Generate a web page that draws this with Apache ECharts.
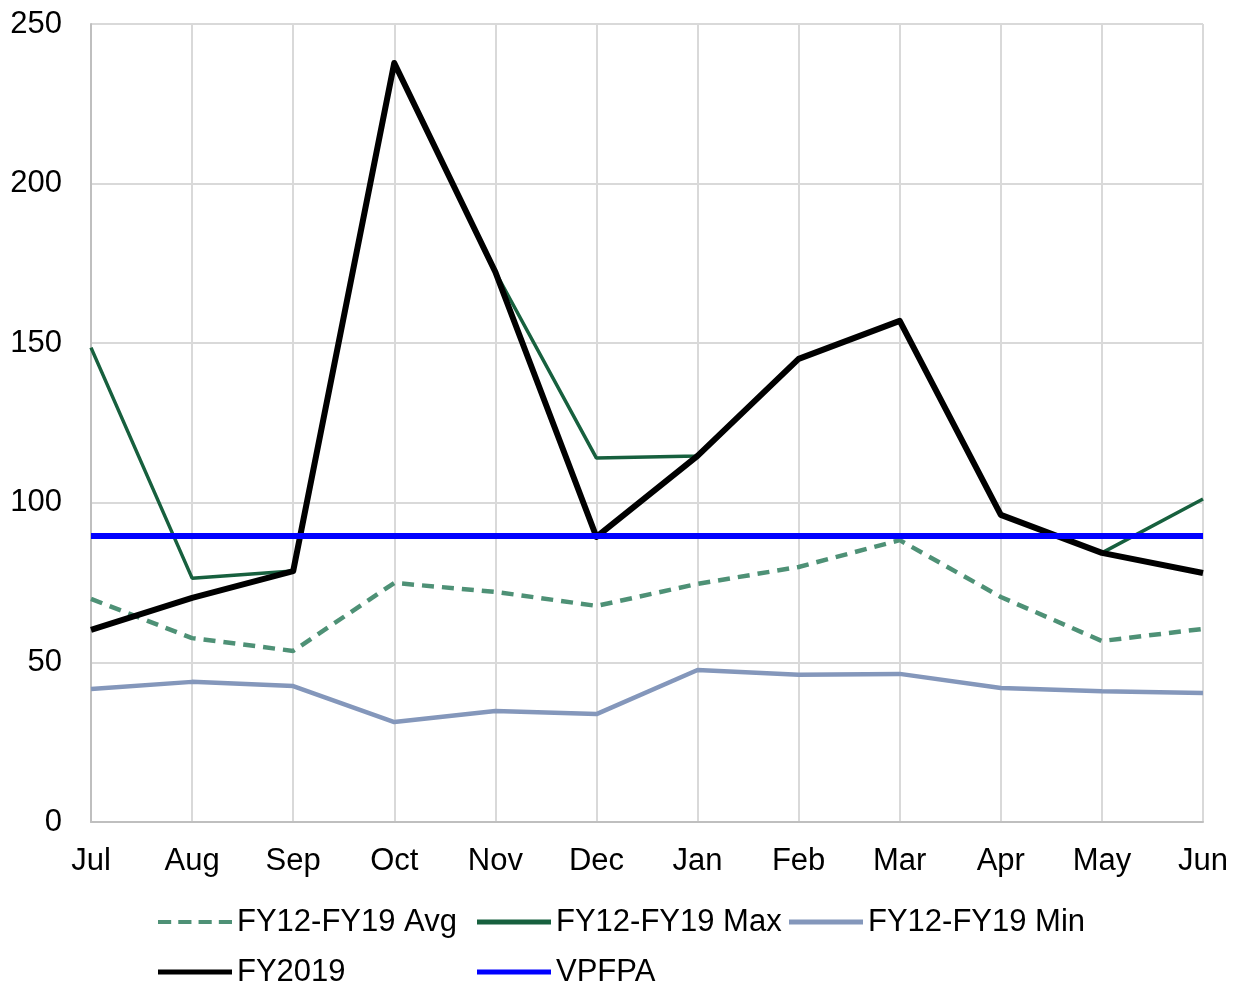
<!DOCTYPE html>
<html>
<head>
    <meta charset="UTF-8">
    <title>FY chart</title>
    <script src="https://cdn.jsdelivr.net/npm/echarts@6/dist/echarts.min.js"></script>
    <style>
        html, body { margin: 0; padding: 0; background: #fff; }
    </style>
</head>
<body>
<div id="main" style="width: 1233px;height:983px;"></div>
<script>
    var months = ['Jul', 'Aug', 'Sep', 'Oct', 'Nov', 'Dec', 'Jan', 'Feb', 'Mar', 'Apr', 'May', 'Jun'];
    var yTicks = [0, 50, 100, 150, 200, 250];

    var avgVals = [69.9, 57.6, 53.6, 74.9, 72.1, 67.7, 74.6, 79.9, 88.3, 70.5, 56.7, 60.5];
    var maxVals = [148.6, 76.4, 78.6, 237.8, 172.3, 114.0, 114.7, 145.1, 157.0, 96.2, 84.3, 101.2];
    var minVals = [41.7, 43.9, 42.6, 31.3, 34.8, 33.8, 47.6, 46.1, 46.4, 42.0, 41.0, 40.4];
    var fy2019 = [60.2, 70.2, 78.6, 237.8, 172.3, 89.3, 114.7, 145.1, 157.0, 96.2, 84.3, 78.0];
    var vpfpa = [89.6, 89.6, 89.6, 89.6, 89.6, 89.6, 89.6, 89.6, 89.6, 89.6, 89.6, 89.6];

    var font = 'Liberation Sans, Arial, sans-serif';
    var legendText = { color: '#000', fontSize: 31, fontFamily: font, lineHeight: 34 };

    // legend icons: plain bar for solid lines, four short bars for the dashed one
    var dashIcon = 'path://M0,0h13v4h-13zM20,0h13v4h-13zM40,0h13v4h-13zM60,0h13v4h-13z';

    function legendCol(left, items) {
        return {
            orient: 'vertical',
            left: left,
            top: 905,
            height: 110,
            itemWidth: 74,
            itemHeight: 5,
            itemGap: 16,
            padding: 0,
            textStyle: legendText,
            data: items
        };
    }

    var myChart = echarts.init(document.getElementById('main'));
    var option = {
        animation: false,
        backgroundColor: '#fff',
        grid: { left: 91, right: 30, top: 24, bottom: 161 },
        legend: [
            legendCol(158, [{ name: 'FY12-FY19 Avg', icon: dashIcon }, { name: 'FY2019', icon: 'rect' }]),
            legendCol(477, [{ name: 'FY12-FY19 Max', icon: 'rect' }, { name: 'VPFPA', icon: 'rect' }]),
            legendCol(789, [{ name: 'FY12-FY19 Min', icon: 'rect' }])
        ],
        xAxis: {
            type: 'category',
            boundaryGap: false,
            data: months,
            axisLine: { lineStyle: { color: '#bfbfbf', width: 2 } },
            axisTick: { show: false },
            axisLabel: { color: '#000', fontSize: 31, fontFamily: font, margin: 24 },
            splitLine: { show: true, lineStyle: { color: '#d9d9d9', width: 2 } }
        },
        yAxis: {
            type: 'value',
            min: yTicks[0],
            max: yTicks[yTicks.length - 1],
            interval: 50,
            axisLine: { show: true, lineStyle: { color: '#bfbfbf', width: 2 } },
            axisTick: { show: false },
            axisLabel: { color: '#000', fontSize: 31, fontFamily: font, margin: 29 },
            splitLine: { lineStyle: { color: '#d9d9d9', width: 2 } }
        },
        series: [
            {
                name: 'FY12-FY19 Avg', type: 'line', data: avgVals, symbol: 'none',
                itemStyle: { color: '#4e9176' },
                lineStyle: { color: '#4e9176', width: 4.5, type: [12, 8] }
            },
            {
                name: 'FY12-FY19 Max', type: 'line', data: maxVals, symbol: 'none',
                itemStyle: { color: '#17603e' },
                lineStyle: { color: '#17603e', width: 3.5 }
            },
            {
                name: 'FY12-FY19 Min', type: 'line', data: minVals, symbol: 'none',
                itemStyle: { color: '#8497bb' },
                lineStyle: { color: '#8497bb', width: 4.5 }
            },
            {
                name: 'FY2019', type: 'line', data: fy2019, symbol: 'none',
                itemStyle: { color: '#000' },
                lineStyle: { color: '#000', width: 6, join: 'round' }
            },
            {
                name: 'VPFPA', type: 'line', data: vpfpa, symbol: 'none',
                itemStyle: { color: '#0000ff' },
                lineStyle: { color: '#0000ff', width: 6 }
            }
        ]
    };
    myChart.setOption(option);
</script>
</body>
</html>
